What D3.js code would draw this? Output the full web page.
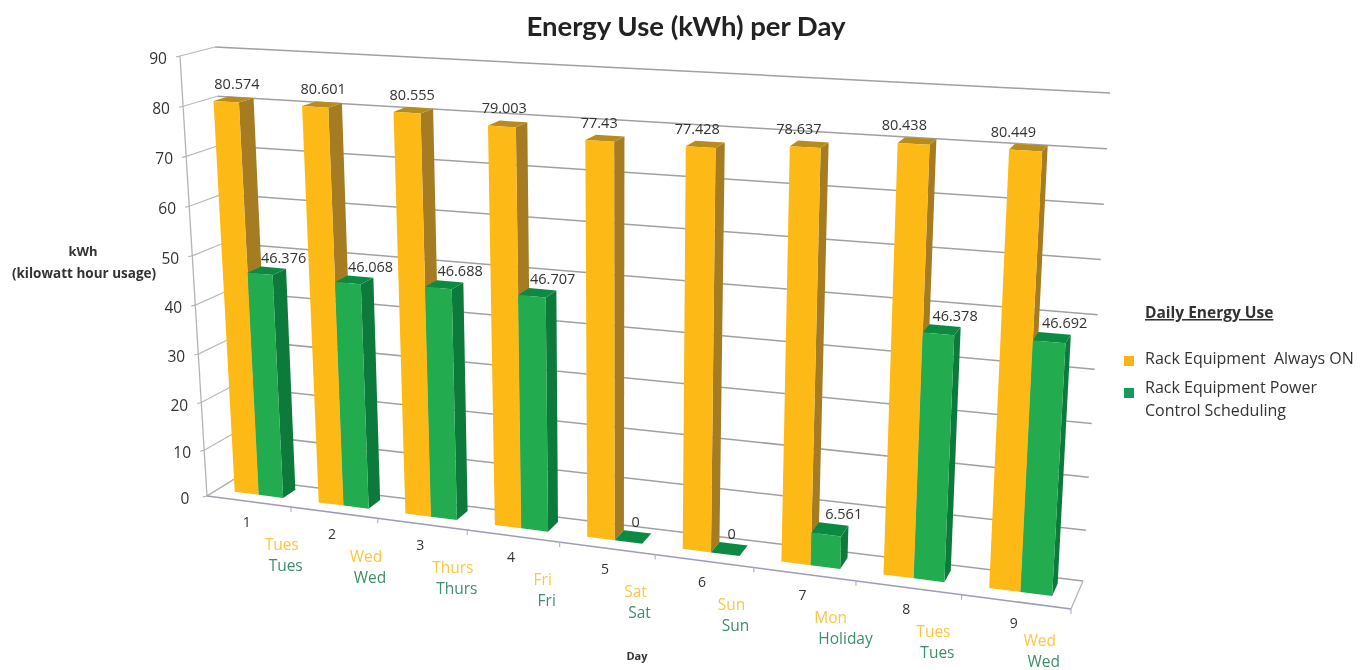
<!DOCTYPE html>
<html>
<head>
<title>Energy Use (kWh) per Day</title>
<script src="https://d3js.org/d3.v7.min.js"></script>
<style>
  body {margin: 0; background: #fff;}
  text {font-family: "Open Sans", sans-serif; fill: #333;}
</style>
</head>
<body>
<svg id="chart" width="1367" height="670"></svg>
<script>
// values
var days = ["1","2","3","4","5","6","7","8","9"];
var dayNamesOn = ["Tues","Wed","Thurs","Fri","Sat","Sun","Mon","Tues","Wed"];
var dayNamesSched = ["Tues","Wed","Thurs","Fri","Sat","Sun","Holiday","Tues","Wed"];
var alwaysOn = [80.574,80.601,80.555,79.003,77.43,77.428,78.637,80.438,80.449];
var scheduled = [46.376,46.068,46.688,46.707,0,0,6.561,46.378,46.692];
var yTicks = [0,10,20,30,40,50,60,70,80,90];
var seriesNames = ["Rack Equipment  Always ON","Rack Equipment Power","Control Scheduling"];

var svg = d3.select("#chart");
var defs = svg.append("defs");
defs.append("filter").attr("id","soft")
  .attr("filterUnits","userSpaceOnUse").attr("x",0).attr("y",0).attr("width",1367).attr("height",670)
  .append("feGaussianBlur").attr("stdDeviation",0.7);
var root = svg.append("g").attr("filter","url(#soft)");

// corners of the 3d box as they land on screen
var floorFront = [[207,496],[1071,609]], floorBack = [[236,478],[1083,581]];
var topFront = [[180,56],[1099,105]], topBack = [[215,47],[1110,93]];
var persp = 1.16; // foreshortening along the day axis

var xDay = d3.scaleBand().domain(days).range([0,1]).paddingInner(0.42).paddingOuter(0.21);
var xSeries = d3.scaleBand().domain([0,1]).range([0,xDay.bandwidth()]);
var yVal = d3.scalePow().exponent(1.03).domain([0,90]).range([0,1]);
var barFront = 0.36, barBack = 0.80;

function mix(a,b,t) { return [a[0]+(b[0]-a[0])*t, a[1]+(b[1]-a[1])*t]; }

// u along days 0..1, val in kWh, w depth 0 (front) to 1 (back wall)
function project(u,val,w) {
  var f = u/(u+persp*(1-u));
  var low = mix(mix(floorFront[0],floorFront[1],f), mix(floorBack[0],floorBack[1],f), w);
  var high = mix(mix(topFront[0],topFront[1],f), mix(topBack[0],topBack[1],f), w);
  return mix(low,high,yVal(val));
}

var line = d3.line();
function poly(g,pts,fill) {
  g.append("path").attr("d",line(pts)+"Z").attr("fill",fill);
}
function rule(pts,color,width) {
  root.append("path").attr("d",line(pts)).attr("fill","none").attr("stroke",color).attr("stroke-width",width);
}

// walls
yTicks.forEach(function(v) {
  rule([project(0,v,1),project(1,v,1)],"#a0a0a0",1.5);
  rule([project(0,v,0),project(0,v,1)],"#b9b9b9",1.2);
  var p = project(0,v,0);
  rule([[p[0]-4,p[1]+1],p],"#b0b0b0",1.1);
  root.append("text").attr("x",p[0]-22).attr("y",p[1]+4)
    .attr("text-anchor","middle").attr("dominant-baseline","middle")
    .attr("font-size",15.5).attr("fill","#555").text(v);
});
rule([project(0,90,0),project(0,0,0)],"#b4b4b4",1.3);
rule([project(0,0,0),project(0,0,1)],"#b4b4b4",1.3);
rule([project(1,0,0),project(1,0,1)],"#b4b4b4",1.3);
rule([project(0,0,0),project(1,0,0)],"#9c9cb4",1.6);
d3.range(1,10).forEach(function(i) {
  var p = project(i/9,0,0);
  rule([p,[p[0],p[1]+5]],"#b0b0b0",1.1);
});

var barColors = [
  {front:"#fdb913", side:"#a67c24", top:"#b88c1e"},
  {front:"#22ab4f", side:"#0a7a3a", top:"#0e8a43"}
];

function drawBar(g,dayName,s,val) {
  var c = barColors[s];
  var u0 = xDay(dayName)+xSeries(s), u1 = u0+xSeries.bandwidth();
  var side = [project(u1,0,barFront),project(u1,0,barBack),project(u1,val,barBack),project(u1,val,barFront)];
  var roof = [project(u0,val,barFront),project(u1,val,barFront),project(u1,val,barBack),project(u0,val,barBack)];
  var face = [project(u0,0,barFront),project(u1,0,barFront),project(u1,val,barFront),project(u0,val,barFront)];
  poly(g,side,c.side);
  poly(g,roof,c.top);
  poly(g,face,c.front);
}

var bars = root.append("g");
days.forEach(function(d,i) {
  drawBar(bars,d,0,alwaysOn[i]);
  drawBar(bars,d,1,scheduled[i]);
});

// data labels
var shiftOn = d3.scaleLinear().domain([0,8]).range([-4,-18]);
days.forEach(function(d,i) {
  var uOn = xDay(d)+xSeries(0)+xSeries.bandwidth()/2;
  var uSc = xDay(d)+xSeries(1)+xSeries.bandwidth()/2;
  var a = project(uOn,alwaysOn[i],barBack);
  root.append("text").attr("x",a[0]+shiftOn(i)).attr("y",a[1]-8)
    .attr("text-anchor","middle").attr("font-size",14.5).text(alwaysOn[i]);
  var b = project(uSc,scheduled[i],barBack);
  root.append("text").attr("x",b[0]+(scheduled[i]===0?-2:10)).attr("y",b[1]-5)
    .attr("text-anchor","middle").attr("font-size",14.5).text(scheduled[i]);
});

// day labels
var shiftName = d3.scaleLinear().domain([0,8]).range([33,24]);
var dropName = d3.scaleLinear().domain([0,7,8]).range([49,49,44]);
days.forEach(function(d,i) {
  var p = project((i+0.5)/9,0,0);
  root.append("text").attr("x",p[0]-2).attr("y",p[1]+26)
    .attr("text-anchor","middle").attr("font-size",14).text(d);
  var on = root.append("text").attr("x",p[0]+shiftName(i)).attr("y",p[1]+dropName(i))
    .attr("text-anchor","middle").attr("font-size",15.5).style("fill","#fcc640").text(dayNamesOn[i]);
  var left = p[0]+shiftName(i)-on.node().getComputedTextLength()/2;
  root.append("text").attr("x",left+4).attr("y",p[1]+dropName(i)+21)
    .attr("font-size",15.5).style("fill","#3d8f6c").text(dayNamesSched[i]);
});

// titles
root.append("text").attr("x",686).attr("y",36).attr("text-anchor","middle")
  .attr("font-size",27.5).attr("font-weight",700).style("font-family","Lato").style("fill","#222")
  .text("Energy Use (kWh) per Day");
root.append("text").attr("x",83).attr("y",256).attr("text-anchor","middle")
  .attr("font-size",13).attr("font-weight",700).text("kWh");
root.append("text").attr("x",84).attr("y",278).attr("text-anchor","middle")
  .attr("font-size",13.5).attr("font-weight",700).text("(kilowatt hour usage)");
root.append("text").attr("x",637).attr("y",660).attr("text-anchor","middle")
  .attr("font-size",11).attr("font-weight",700).text("Day");

// legend
root.append("text").attr("x",1145).attr("y",318).attr("font-size",15.5).attr("font-weight",700)
  .attr("text-decoration","underline").text("Daily Energy Use");
root.append("rect").attr("x",1124).attr("y",356).attr("width",10).attr("height",10).attr("fill","#f9b11f");
root.append("rect").attr("x",1124).attr("y",388).attr("width",10).attr("height",10).attr("fill","#159a5b");
root.append("text").attr("x",1145).attr("y",364).attr("font-size",16).style("white-space","pre").text(seriesNames[0]);
root.append("text").attr("x",1145).attr("y",393).attr("font-size",16).text(seriesNames[1]);
root.append("text").attr("x",1145).attr("y",416).attr("font-size",16).text(seriesNames[2]);
</script>
</body>
</html>
